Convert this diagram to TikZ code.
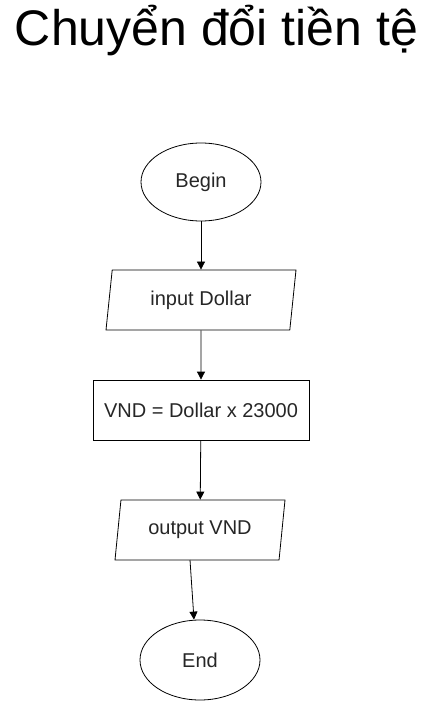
\documentclass[tikz,border=0pt]{standalone}
\usepackage{fontspec}
\setmainfont{Liberation Sans}
\usetikzlibrary{shapes.geometric,arrows.meta}
\begin{document}
\begin{tikzpicture}[x=1pt,y=-1pt,
  every node/.style={font=\fontsize{20}{24}\selectfont, text=black!85},
  term/.style={draw, ellipse, minimum width=120pt, minimum height=78pt, inner sep=0pt, line width=0.8pt},
  io/.style={draw, trapezium, trapezium left angle=71.6, trapezium right angle=108.4, minimum width=190pt, minimum height=60pt, trapezium stretches body, inner sep=0pt, line width=0.8pt},
  proc/.style={draw, rectangle, minimum width=216pt, minimum height=60pt, inner sep=0pt, line width=0.8pt},
  flow/.style={draw, line width=0.8pt, -{Triangle[length=8pt,width=8pt]}}]
\useasboundingbox (0,0) rectangle (431,701);
\node[anchor=base, font=\fontsize{50}{54}\selectfont, text=black] (title) at (216.5,46) {Chuyển đổi tiền tệ};
\node[term] (begin) at (201,182) {Begin};
\node[io] (input) at (201,300) {input Dollar};
\node[proc] (calc) at (201,410) {VND = Dollar x 23000};
\node[io, minimum width=170pt] (output) at (200,530) {output VND};
\node[term, minimum height=80pt] (end) at (200,660) {End};
\draw[flow] (begin) -- (input);
\draw[flow] (input) -- (calc);
\draw[flow] (calc) -- (output);
\coordinate (oout) at (190,560);
\draw[flow] (oout) -- (end.north -| 194,0);
\end{tikzpicture}
\end{document}
